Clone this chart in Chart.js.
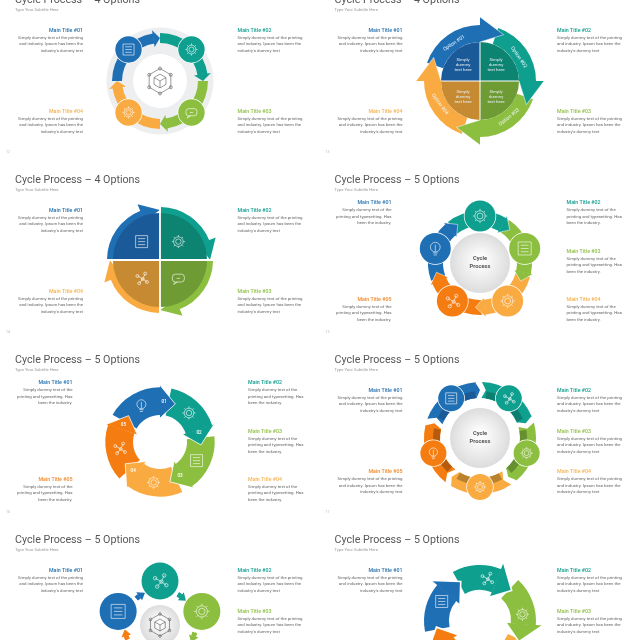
<!DOCTYPE html>
<html lang="en">
<head>
<meta charset="UTF-8">
<title>Cycle Process</title>
<script src="https://cdn.jsdelivr.net/npm/chart.js@4"></script>
<style>
  html, body { margin: 0; padding: 0; background: #fff; overflow: hidden; }
  #page { position: relative; width: 640px; height: 640px; overflow: hidden; font-family: Roboto, sans-serif; filter: blur(0.3px); }
  #page canvas { position: absolute; }
  .label { position: absolute; white-space: nowrap; line-height: 1; z-index: 5; }
</style>
</head>
<body>
<div id="page"></div>
<script>
// Chart data
const fourOptions = [25, 25, 25, 25];
const fiveOptions = [20, 20, 20, 20, 20];
const optionNames = ['Option #01', 'Option #02', 'Option #03', 'Option #04'];
const stepNumbers = ['01', '02', '03', '04', '05'];
const mainTitles = ['Main Title #01', 'Main Title #02', 'Main Title #03', 'Main Title #04', 'Main Title #05'];
const wideBody = ['Simply dummy text of the printing', 'and industry. Ipsum has been the', "industry's dummy text"];
const narrowBody = ['Simply dummy text of the', 'printing and typesetting. Has', 'been the industry.'];
const shortBody = ['Simply', 'dummy', 'text here'];
const pageNumbers = ['12', '13', '14', '15', '16', '17'];

// Colours
const blue = '#1f6fb5', teal = '#0e9f8f', green = '#8cbf3f', amber = '#f9aa40', red = '#f47c10';
const colors4 = [blue, teal, green, amber];
const colors5 = [blue, teal, green, amber, red];
const darks4 = ['#1a5a98', '#0d8372', '#6f9b35', '#c68a32'];
const titleColors4 = ['#2a74b0', '#14a091', '#93c14c', '#f5b455'];
const titleColors5 = ['#2a74b0', '#14a091', '#93c14c', '#f5b455', '#f28a2a'];
const darks5 = ['#1a5a98', '#0d7f70', '#66902f', '#b9822c', '#b85a0c'];

const page = document.getElementById('page');
const toRad = d => d * Math.PI / 180;

// Real text goes in as positioned divs
function label(text, x, y, o = {}) {
  const d = document.createElement('div');
  d.className = 'label';
  d.textContent = text;
  const shift = o.align === 'right' ? '-100%' : o.align === 'center' ? '-50%' : '0';
  d.style.cssText = `left:${x}px;top:${y}px;font-size:${o.size || 4.35}px;color:${o.color || '#666'};` +
    `font-weight:${o.weight || 400};transform:translate(${shift},-50%) rotate(${o.rot || 0}deg);`;
  page.appendChild(d);
}

// Slide header and the text blocks beside the wheel
function addSlideText(p) {
  const x0 = p.col ? 319.5 : 0, y0 = p.row * 180;
  label(p.title, x0 + 15, y0 - 0.5, { size: 10.7, color: '#565656' });
  label('Type Your Subtitle Here', x0 + 15, y0 + 10.4, { size: 4.2, color: '#999' });
  if (p.pageNo) label(p.pageNo, x0 + 8, y0 + 152.7, { size: 3.6, color: '#bbb', align: 'center' });
  p.blocks.forEach((b, i) => {
    const left = b.side === 'left';
    const x = x0 + (left ? p.leftEdge : p.rightEdge);
    const align = left ? 'right' : 'left';
    label(mainTitles[i], x, y0 + b.y, { size: 5.3, weight: 500, color: p.titleColors[i], align });
    p.body.forEach((line, j) => label(line, x, y0 + b.y + 7 + j * 6.4, { align }));
  });
}

const at = (arc, a, r) => [arc.x + r * Math.cos(a), arc.y + r * Math.sin(a)];

function sector(ctx, arc, a0, a1, r, color) {
  ctx.beginPath();
  ctx.moveTo(arc.x, arc.y);
  ctx.arc(arc.x, arc.y, r, a0, a1);
  ctx.closePath();
  ctx.fillStyle = color;
  ctx.fill();
}

// Band part of one arrow, taken from the arc element the library laid out
function drawBody(ctx, arc, s, color) {
  const ro = arc.outerRadius, ri = arc.innerRadius;
  const a0 = arc.startAngle + toRad(s.tail || 0);
  const ab = arc.endAngle + toRad((s.lead || 0) - s.head + 0.5);
  ctx.beginPath();
  ctx.arc(arc.x, arc.y, ro, a0, ab);
  ctx.arc(arc.x, arc.y, ri, ab, a0, true);
  if (s.notch) ctx.lineTo(...at(arc, a0 + toRad(s.notch), (ro + ri) / 2));
  ctx.closePath();
  ctx.fillStyle = color;
  ctx.fill();
}

function drawHead(ctx, arc, s, color) {
  const ro = arc.outerRadius, ri = arc.innerRadius;
  const a1 = arc.endAngle + toRad(s.lead || 0);
  const ab = a1 - toRad(s.head);
  const outer = at(arc, ab, ro + s.fo), tip = at(arc, a1, s.tipR || (ro + ri) / 2), inner = at(arc, ab, ri - s.fi);
  ctx.beginPath();
  ctx.moveTo(...outer);
  ctx.lineTo(...tip);
  ctx.lineTo(...inner);
  ctx.closePath();
  ctx.fillStyle = color;
  ctx.fill();
  // white edge only along the two slanted sides, the base joins the band
  if (s.edge) {
    ctx.beginPath();
    ctx.moveTo(...outer);
    ctx.lineTo(...tip);
    ctx.lineTo(...inner);
    ctx.strokeStyle = '#fff';
    ctx.lineWidth = s.edge;
    ctx.stroke();
  }
}

// Small outline pictograms
function drawIcon(ctx, kind, x, y, s, color) {
  ctx.save();
  ctx.translate(x, y);
  ctx.strokeStyle = color;
  ctx.fillStyle = color;
  ctx.lineWidth = 0.6;
  ctx.beginPath();
  if (kind === 'doc') {
    ctx.rect(-s, -s, 2 * s, 2 * s);
    for (let i = -1; i <= 1; i++) {
      ctx.moveTo(-s * 0.6, i * s * 0.5);
      ctx.lineTo(s * 0.6, i * s * 0.5);
    }
  } else if (kind === 'gear') {
    ctx.arc(0, 0, s * 0.45, 0, 7);
    ctx.moveTo(s * 0.8, 0);
    ctx.arc(0, 0, s * 0.8, 0, 7);
    for (let i = 0; i < 8; i++) {
      const a = i * Math.PI / 4;
      ctx.moveTo(s * 0.8 * Math.cos(a), s * 0.8 * Math.sin(a));
      ctx.lineTo(s * 1.1 * Math.cos(a), s * 1.1 * Math.sin(a));
    }
  } else if (kind === 'chat') {
    ctx.roundRect(-s, -s * 0.7, 2 * s, s * 1.3, s * 0.5);
    ctx.moveTo(-s * 0.5, s * 0.6);
    ctx.lineTo(-s * 0.8, s);
    ctx.lineTo(-s * 0.1, s * 0.6);
    ctx.moveTo(-s * 0.3, 0);
    ctx.lineTo(s * 0.3, 0);
  } else if (kind === 'bulb') {
    ctx.arc(0, -s * 0.2, s * 0.75, 0, 7);
    ctx.moveTo(-s * 0.35, s * 0.7);
    ctx.lineTo(s * 0.35, s * 0.7);
    ctx.moveTo(-s * 0.25, s);
    ctx.lineTo(s * 0.25, s);
    ctx.moveTo(0, -s * 0.6);
    ctx.lineTo(0, s * 0.5);
  } else if (kind === 'web') {
    [[-0.7, -0.4], [0.6, -0.8], [0.2, 0.1], [-0.4, 0.8], [0.9, 0.6]].forEach(([a, b]) => {
      ctx.moveTo(a * s + s * 0.25, b * s);
      ctx.arc(a * s, b * s, s * 0.25, 0, 7);
      ctx.moveTo(a * s, b * s);
      ctx.lineTo(s * 0.2, s * 0.1);
    });
  } else if (kind === 'cube') {
    for (let i = 0; i < 6; i++) {
      const a = toRad(60 * i - 90);
      ctx[i ? 'lineTo' : 'moveTo'](s * Math.cos(a), s * Math.sin(a));
    }
    ctx.closePath();
    for (let i = 0; i < 6; i++) {
      const a = toRad(60 * i - 90);
      ctx.moveTo(s * Math.cos(a) + s * 0.12, s * Math.sin(a));
      ctx.arc(s * Math.cos(a), s * Math.sin(a), s * 0.12, 0, 7);
    }
    const c = s * 0.55;
    ctx.moveTo(0, -c);
    ctx.lineTo(c * 0.87, -c / 2);
    ctx.lineTo(c * 0.87, c / 2);
    ctx.lineTo(0, c);
    ctx.lineTo(-c * 0.87, c / 2);
    ctx.lineTo(-c * 0.87, -c / 2);
    ctx.closePath();
    ctx.moveTo(-c * 0.87, -c / 2);
    ctx.lineTo(0, 0);
    ctx.lineTo(c * 0.87, -c / 2);
    ctx.moveTo(0, 0);
    ctx.lineTo(0, c);
  }
  ctx.stroke();
  ctx.restore();
}

// Replaces the plain doughnut slices with the arrow shapes of each wheel
function cyclePlugin(p) {
  return {
    id: 'cycle',
    beforeDatasetDraw(chart) {
      const ctx = chart.ctx;
      const arcs = chart.getDatasetMeta(0).data;
      const cols = chart.data.datasets[0].backgroundColor;
      const cx = arcs[0].x, cy = arcs[0].y;
      ctx.save();

      if (p.track) {
        ctx.beginPath();
        ctx.arc(cx, cy, p.track.ro, 0, 7);
        ctx.arc(cx, cy, p.track.ri, 7, 0, true);
        ctx.fillStyle = p.track.color;
        ctx.fill();
      }
      if (p.arrow) {
        arcs.forEach((arc, i) => drawBody(ctx, arc, p.arrow, cols[i]));
        if (p.stripe) {
          arcs.forEach((arc, i) => {
            const a0 = arc.startAngle + toRad(p.arrow.tail + 6);
            const a1 = arc.endAngle - toRad(p.arrow.head + 1);
            ctx.beginPath();
            ctx.arc(arc.x, arc.y, p.stripe.ro, a0, a1);
            ctx.arc(arc.x, arc.y, p.stripe.ri, a1, a0, true);
            ctx.closePath();
            ctx.fillStyle = p.darks[i];
            ctx.fill();
          });
        }
        arcs.forEach((arc, i) => drawHead(ctx, arc, p.arrow, cols[i]));
      }
      if (p.core) {
        arcs.forEach((arc, i) => {
          const a1 = arc.endAngle - toRad(p.core.back);
          sector(ctx, arc, a1 - toRad(90), a1, p.core.r, p.darks[i]);
        });
        arcs.forEach(arc => {
          const a = arc.endAngle - toRad(p.core.back);
          ctx.beginPath();
          ctx.moveTo(arc.x, arc.y);
          ctx.lineTo(...at(arc, a, p.core.r + p.core.over));
          ctx.strokeStyle = '#fff';
          ctx.lineWidth = p.core.gap;
          ctx.stroke();
        });
      }
      if (p.disc) {
        const g = ctx.createRadialGradient(cx, cy - 3, p.disc.r * 0.2, cx, cy, p.disc.r);
        g.addColorStop(0, '#fbfbfb');
        g.addColorStop(1, '#dcdcdc');
        ctx.beginPath();
        ctx.arc(cx, cy, p.disc.r, 0, 7);
        ctx.fillStyle = g;
        ctx.fill();
      }
      if (p.cube) drawIcon(ctx, 'cube', cx, cy, p.cube, '#555');
      if (p.node) {
        arcs.forEach((arc, i) => {
          const a = arc.startAngle + toRad(p.node.deg);
          const [x, y] = at(arc, a, p.node.dist);
          ctx.beginPath();
          ctx.arc(x, y, p.node.r + 0.7, 0, 7);
          ctx.fillStyle = '#fff';
          ctx.fill();
          ctx.beginPath();
          ctx.arc(x, y, p.node.r, 0, 7);
          ctx.fillStyle = cols[i];
          ctx.fill();
        });
      }
      if (p.icons) {
        arcs.forEach((arc, i) => {
          const [x, y] = at(arc, arc.startAngle + toRad(p.iconDeg), p.iconDist);
          drawIcon(ctx, p.icons[i % p.icons.length], x, y, p.iconSize, '#fff');
        });
      }
      ctx.restore();
      return false;
    }
  };
}

// One doughnut per slide, centred on that slide's wheel
function addWheel(p) {
  const box = 160;
  const c = document.createElement('canvas');
  c.width = box;
  c.height = box;
  c.style.left = (p.cx - box / 2) + 'px';
  c.style.top = (p.cy - box / 2) + 'px';
  page.appendChild(c);
  new Chart(c, {
    type: 'doughnut',
    data: {
      labels: p.values.map((v, i) => mainTitles[i]),
      datasets: [{ data: p.values, backgroundColor: p.colors, borderWidth: 0 }]
    },
    options: {
      responsive: false,
      animation: false,
      rotation: p.rotation,
      radius: p.ro,
      cutout: (p.ri / p.ro * 100) + '%',
      events: [],
      plugins: { legend: { display: false }, tooltip: { enabled: false } }
    },
    plugins: [cyclePlugin(p)]
  });
}

const blocks4 = [
  { side: 'left', y: 30.7 }, { side: 'right', y: 30.7 },
  { side: 'right', y: 112 }, { side: 'left', y: 112 }
];
const blocks5Wide = [
  { side: 'left', y: 30.7 }, { side: 'right', y: 30.7 }, { side: 'right', y: 71.7 },
  { side: 'right', y: 112.3 }, { side: 'left', y: 112.3 }
];
const blocks5Narrow = [
  { side: 'left', y: 23.3 }, { side: 'right', y: 23.3 }, { side: 'right', y: 71.7 },
  { side: 'right', y: 119.7 }, { side: 'left', y: 119.7 }
];

const title4 = 'Cycle Process – 4 Options';
const title5 = 'Cycle Process – 5 Options';

const panels = [
  {
    col: 0, row: 0, title: title4, pageNo: pageNumbers[0], cx: 160, cy: 80.5,
    values: fourOptions, colors: colors4, rotation: -90, ro: 48, ri: 38,
    blocks: blocks4, body: wideBody, titleColors: titleColors4, leftEdge: 83, rightEdge: 237.5,
    track: { ro: 53.5, ri: 27, color: '#eceef0' },
    arrow: { head: 9, fo: 3.5, fi: 3.5 },
    node: { deg: 45, dist: 44.5, r: 13.2 }, cube: 12.5,
    icons: ['doc', 'gear', 'chat', 'gear'], iconDeg: 45, iconDist: 44.5, iconSize: 5.5
  },
  {
    col: 1, row: 0, title: title4, pageNo: pageNumbers[1], cx: 480, cy: 81,
    values: fourOptions, colors: colors4, darks: darks4, rotation: -63, ro: 56, ri: 39,
    blocks: blocks4, body: wideBody, titleColors: titleColors4, leftEdge: 83, rightEdge: 237.5,
    arrow: { head: 27, fo: 8, fi: 0, tipR: 52, tail: -8, edge: 0.5 },
    core: { r: 39, back: 27, over: 0, gap: 1 }
  },
  {
    col: 0, row: 1, title: title4, pageNo: pageNumbers[2], cx: 160, cy: 260,
    values: fourOptions, colors: colors4, darks: darks4, rotation: -90, ro: 53, ri: 45,
    blocks: blocks4, body: wideBody, titleColors: titleColors4, leftEdge: 83, rightEdge: 237.5,
    arrow: { head: 22, fo: 7, fi: 3, tipR: 50, tail: 1 },
    core: { r: 47, back: 0, over: 7, gap: 1.8 },
    icons: ['doc', 'gear', 'chat', 'web'], iconDeg: 45, iconDist: 26, iconSize: 6
  },
  {
    col: 1, row: 1, title: title5, pageNo: pageNumbers[3], cx: 480, cy: 263,
    values: fiveOptions, colors: colors5, rotation: -102, ro: 52, ri: 37,
    blocks: blocks5Narrow, body: narrowBody, titleColors: titleColors5, leftEdge: 72, rightEdge: 247,
    arrow: { head: 12, fo: 2, fi: 2, tail: -8, edge: 0.5 },
    disc: { r: 30 }, node: { deg: 30, dist: 47, r: 15.5 },
    icons: ['bulb', 'gear', 'doc', 'gear', 'web'], iconDeg: 30, iconDist: 47, iconSize: 6.5
  },
  {
    col: 0, row: 2, title: title5, pageNo: pageNumbers[4], cx: 160, cy: 441.7,
    values: fiveOptions, colors: colors5, rotation: -50, ro: 54.7, ri: 27,
    blocks: blocks5Narrow, body: narrowBody, titleColors: titleColors5, leftEdge: 72.5, rightEdge: 248,
    arrow: { head: 22, fo: 2, fi: 3, tipR: 41, tail: -10, edge: 0.8 },
    icons: ['bulb', 'gear', 'doc', 'gear', 'web'], iconDeg: 23, iconDist: 41, iconSize: 6
  },
  {
    col: 1, row: 2, title: title5, pageNo: pageNumbers[5], cx: 480, cy: 437.7,
    values: fiveOptions, colors: colors5, darks: darks5, rotation: -72, ro: 56, ri: 40,
    blocks: blocks5Wide, body: wideBody, titleColors: titleColors5, leftEdge: 83, rightEdge: 237.5,
    arrow: { head: 5, fo: 0, fi: 0, tail: 2, notch: 5 },
    stripe: { ro: 47, ri: 40 }, disc: { r: 30 }, node: { deg: 36, dist: 49, r: 13 },
    icons: ['doc', 'web', 'gear', 'gear', 'bulb'], iconDeg: 36, iconDist: 49, iconSize: 5.5
  },
  {
    col: 0, row: 3, title: title5, cx: 160, cy: 625,
    values: fiveOptions, colors: colors5, rotation: -108, ro: 38, ri: 33,
    blocks: blocks5Wide, body: wideBody, titleColors: titleColors5, leftEdge: 83, rightEdge: 237.5,
    arrow: { head: 11, fo: 2.5, fi: 2.5, tail: 66, lead: 11 },
    disc: { r: 20 }, cube: 11, node: { deg: 36, dist: 44, r: 18.5 },
    icons: ['doc', 'web', 'gear', 'gear', 'bulb'], iconDeg: 36, iconDist: 44, iconSize: 7
  },
  {
    col: 1, row: 3, title: title5, cx: 480, cy: 620.5,
    values: fiveOptions, colors: colors5, rotation: -98, ro: 56, ri: 31,
    blocks: blocks5Wide, body: wideBody, titleColors: titleColors5, leftEdge: 83, rightEdge: 237.5,
    arrow: { head: 24, fo: 7, fi: 5, tipR: 44, tail: -3, edge: 1.6 },
    icons: ['doc', 'web', 'gear', 'gear', 'bulb'], iconDeg: 35, iconDist: 43, iconSize: 6
  }
];

panels.forEach(p => {
  addSlideText(p);
  addWheel(p);
});

// Text on the wheel of slide 2
const optionSpots = [[454, 42.7, -33], [519, 57.3, 55], [509.3, 116.7, -39], [440, 104, 54]];
optionSpots.forEach(([x, y, rot], i) => label(optionNames[i], x, y, { size: 5, color: '#eef6fb', align: 'center', rot }));
const coreSpots = [[463, 65], [496, 65], [463, 97], [496, 97]];
coreSpots.forEach(([x, y]) => {
  shortBody.forEach((line, j) => label(line, x, y + (j - 1) * 5.3, { size: 4.4, color: '#e6eef2', align: 'center' }));
});

// Centre captions on the two ring slides
[[480, 263], [480, 437.7]].forEach(([x, y]) => {
  label('Cycle', x, y - 3.8, { size: 5.7, weight: 700, color: '#555', align: 'center' });
  label('Process', x, y + 3.8, { size: 5.7, weight: 700, color: '#555', align: 'center' });
});

// Step numbers on the thick ring of slide 5
stepNumbers.forEach((n, i) => {
  const a = toRad(6 + 72 * i - 90);
  label(n, 160 + 40 * Math.cos(a), 441.7 + 40 * Math.sin(a), { size: 4.6, weight: 500, color: '#fff', align: 'center' });
});
</script>
</body>
</html>
